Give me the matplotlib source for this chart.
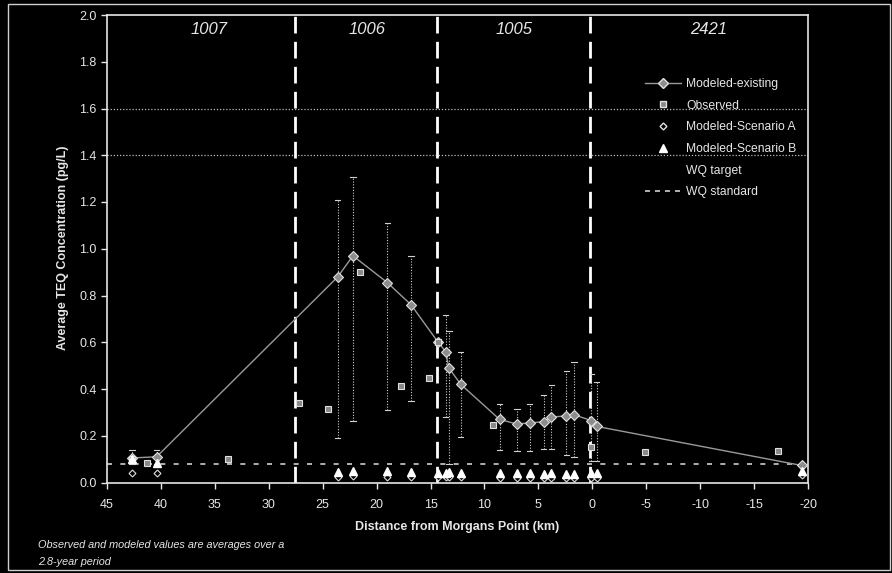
import matplotlib.pyplot as plt
import numpy as np
from matplotlib.lines import Line2D
from matplotlib.patches import Rectangle

# distance from Morgans Point (km) of the modeled segments
km_model = [42.7, 40.4, 23.6, 22.2, 19.0, 16.8, 14.3, 13.6, 13.3, 12.2,
            8.6, 7.0, 5.8, 4.5, 3.8, 2.4, 1.7, 0.1, -0.4, -19.4]
teq_model = [0.105, 0.11, 0.88, 0.97, 0.855, 0.76, 0.60, 0.56, 0.49, 0.42,
             0.27, 0.25, 0.255, 0.26, 0.28, 0.285, 0.29, 0.265, 0.24, 0.073]
teq_low = [0.08, 0.08, 0.19, 0.265, 0.31, 0.35, np.nan, 0.28, 0.08, 0.195,
           0.137, 0.134, 0.134, 0.144, 0.144, 0.116, 0.111, 0.094, 0.094, np.nan]
teq_high = [0.14, 0.14, 1.21, 1.305, 1.11, 0.97, np.nan, 0.715, 0.65, 0.56,
            0.337, 0.316, 0.334, 0.373, 0.415, 0.477, 0.515, 0.465, 0.43, np.nan]
teq_scen_a = [0.04, 0.04, 0.025, 0.027, 0.025, 0.025, 0.022, 0.022, 0.024, 0.022,
              0.02, 0.02, 0.02, 0.02, 0.02, 0.02, 0.02, 0.02, 0.02, 0.03]
teq_scen_b = [0.10, 0.085, 0.045, 0.048, 0.048, 0.047, 0.04, 0.042, 0.044, 0.042,
              0.04, 0.04, 0.04, 0.037, 0.04, 0.037, 0.038, 0.04, 0.04, 0.05]

km_obs = [42.7, 41.3, 33.75, 27.2, 24.55, 21.5, 17.7, 15.1, 14.3, 9.25, 0.15, -4.85, -17.2]
teq_obs = [0.10, 0.084, 0.10, 0.34, 0.313, 0.90, 0.412, 0.447, 0.60, 0.248, 0.151, 0.13, 0.134]

segment_bounds = [27.6, 14.4, 0.2]
segment_names = ["1007", "1006", "1005", "2421"]
segment_label_km = [35.5, 20.9, 7.3, -10.8]

wq_standard = 0.08
ref_lines = [1.6, 1.4]

plt.rcParams['font.family'] = ['Liberation Sans', 'DejaVu Sans']
plt.rcParams['axes.unicode_minus'] = False
fg = '#e6e6e6'
gray = '#9a9a9a'

fig = plt.figure(figsize=(8.92, 5.73), dpi=100, facecolor='black')
ax = fig.add_axes([107 / 892, 1 - 482.5 / 573, 701 / 892, 467.5 / 573])
ax.set_facecolor('black')

ax.set_xlim(45, -20)
ax.set_ylim(0, 2.0)
ax.set_xticks(np.arange(45, -21, -5))
ax.set_yticks(np.arange(0, 2.01, 0.2))
ax.set_yticklabels([f"{v:.1f}" for v in np.arange(0, 2.01, 0.2)])
ax.tick_params(colors=fg, labelsize=9, length=4, width=1, direction='out')
ax.tick_params(axis='x', pad=8)
for s in ax.spines.values():
    s.set_color(fg)
    s.set_linewidth(1.2)

# horizontal reference lines
for y in ref_lines:
    ax.axhline(y, color='#bdbdbd', lw=0.9, ls=(0, (1, 1.5)), zorder=1)

# segment boundaries
for b in segment_bounds:
    ax.axvline(b, color='white', lw=2, ls=(0, (6, 3)), zorder=2)
for name, k in zip(segment_names, segment_label_km):
    ax.text(k, 1.94, name, color=fg, fontsize=12, style='italic',
            ha='center', va='center')

# range bars
for k, lo, hi in zip(km_model, teq_low, teq_high):
    if np.isnan(lo):
        continue
    ax.plot([k, k], [lo, hi], color='#d0d0d0', lw=0.8, ls=(0, (1, 1.5)), zorder=3)
    ax.plot([k - 0.25, k + 0.25], [hi, hi], color='#d0d0d0', lw=0.8, zorder=3)
    ax.plot([k - 0.25, k + 0.25], [lo, lo], color='#d0d0d0', lw=0.8, zorder=3)

ax.axhline(wq_standard, color='#cfcfcf', lw=1.2, ls=(0, (3, 5)), zorder=2)

ax.plot(km_model, teq_model, color=gray, lw=1, marker='D', ms=5.5,
        mfc='#8c8c8c', mec='#e0e0e0', mew=0.8, zorder=5)
ax.plot(km_obs, teq_obs, ls='none', marker='s', ms=4.5, mfc='#888888',
        mec='#e0e0e0', mew=0.8, zorder=6)
ax.plot(km_model, teq_scen_a, ls='none', marker='D', ms=3.5, mfc='black',
        mec='#e0e0e0', mew=0.8, zorder=6)
ax.plot(km_model, teq_scen_b, ls='none', marker='^', ms=5.5, mfc='white',
        mec='white', zorder=7)

handles = [
    Line2D([], [], color=gray, lw=1, marker='D', ms=5.5, mfc='#8c8c8c', mec='#e0e0e0'),
    Line2D([], [], ls='none', marker='s', ms=4.5, mfc='#888888', mec='#e0e0e0'),
    Line2D([], [], ls='none', marker='D', ms=3.5, mfc='black', mec='#e0e0e0'),
    Line2D([], [], ls='none', marker='^', ms=5.5, mfc='white', mec='white'),
    Line2D([], [], color='black', lw=1),
    Line2D([], [], color='#cfcfcf', lw=1.2, ls=(0, (3, 3))),
]
labels = ["Modeled-existing", "Observed", "Modeled-Scenario A",
          "Modeled-Scenario B", "WQ target", "WQ standard"]
leg = ax.legend(handles, labels, loc='upper left',
                bbox_to_anchor=(634 / 892, 1 - 67 / 573),
                bbox_transform=fig.transFigure, frameon=False, fontsize=8.7,
                handlelength=3.0, handletextpad=0.4, labelspacing=0.8)
for t in leg.get_texts():
    t.set_color(fg)

fig.text(457 / 892, 1 - 527 / 573, "Distance from Morgans Point (km)",
         color=fg, fontsize=9, fontweight='bold', ha='center', va='center')
fig.text(63 / 892, 1 - 248 / 573, "Average TEQ Concentration (pg/L)",
         color=fg, fontsize=9, fontweight='bold', ha='center', va='center',
         rotation=90)
fig.text(38 / 892, 1 - 545 / 573, "Observed and modeled values are averages over a",
         color=fg, fontsize=7.8, style='italic', va='center')
fig.text(38 / 892, 1 - 562 / 573, "2.8-year period",
         color=fg, fontsize=7.8, style='italic', va='center')

# outer frame
fig.patches.append(Rectangle((8 / 892, 3 / 573), 882 / 892, 566 / 573,
                             transform=fig.transFigure, fill=False,
                             edgecolor='#cfcfcf', lw=1))

fig.savefig("out.png", dpi=100, facecolor='black')
